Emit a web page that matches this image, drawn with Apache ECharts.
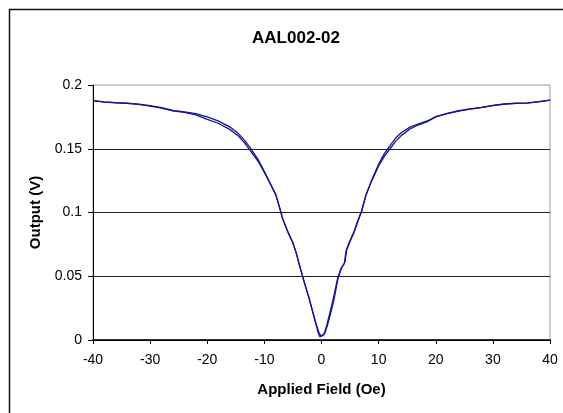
<!DOCTYPE html>
<html>
<head>
<meta charset="utf-8">
<script src="https://cdn.jsdelivr.net/npm/echarts@6/dist/echarts.min.js"></script>
<style>
html,body{margin:0;padding:0;background:#fff;}
#chart{width:563px;height:413px;}
</style>
</head>
<body>
<div id="chart"></div>
<script>
// Branch A (sweep one way)
var fieldA = [-40,-38,-36,-34,-32,-30,-28,-26,-24,-22,-20,-18,-16,-14.5,-13.5,-12.5,-11,-10,-9,-8,-7.4,-6.8,-6,-5,-4.4,-3.7,-3,-2.2,-1.6,-1,-0.6,-0.3,0,0.4,0.9,1.4,2,2.8,3.4,4,4.3,5,5.7,6.3,7,7.8,8.8,10,11,12,13,14,15.5,17,18.5,20,22,24,26,28,30,32,34,36,38,40];
var outA = [0.1877,0.1866,0.1860,0.1856,0.1850,0.1838,0.1822,0.1800,0.1790,0.1776,0.1750,0.1717,0.1670,0.1617,0.1568,0.1508,0.1408,0.1322,0.1232,0.1140,0.1050,0.0950,0.0860,0.0760,0.0680,0.0560,0.0450,0.0330,0.0230,0.0130,0.0060,0.0025,0.0020,0.0040,0.0110,0.0200,0.0310,0.0480,0.0560,0.0600,0.0700,0.0780,0.0850,0.0930,0.1010,0.1140,0.1250,0.1365,0.1440,0.1500,0.1560,0.1605,0.1655,0.1688,0.1712,0.1750,0.1775,0.1795,0.1810,0.1822,0.1838,0.1850,0.1856,0.1858,0.1868,0.1882];
// Branch B (sweep back)
var fieldB = [-40,-38,-36,-34,-32,-30,-28,-26,-24,-22,-20,-18,-16,-14.5,-13.5,-12.5,-11,-10,-9,-8,-7.4,-6.8,-6,-5,-4.4,-3.7,-3,-2.2,-1.6,-1,-0.5,-0.1,0.2,0.6,1.1,1.6,2.2,2.9,3.5,4.1,4.4,5.1,5.8,6.4,7,7.8,8.8,10,11,12,13,14,15.5,17,18.5,20,22,24,26,28,30,32,34,36,38,40];
var outB = [0.1877,0.1867,0.1861,0.1857,0.1848,0.1835,0.1818,0.1797,0.1785,0.1765,0.1730,0.1698,0.1650,0.1598,0.1548,0.1488,0.1395,0.1315,0.1228,0.1138,0.1048,0.0952,0.0858,0.0762,0.0678,0.0562,0.0452,0.0332,0.0232,0.0135,0.0065,0.0030,0.0030,0.0055,0.0125,0.0210,0.0320,0.0485,0.0565,0.0610,0.0705,0.0785,0.0855,0.0935,0.1005,0.1140,0.1255,0.1378,0.1462,0.1525,0.1585,0.1628,0.1670,0.1695,0.1718,0.1752,0.1778,0.1798,0.1812,0.1824,0.1840,0.1851,0.1857,0.1860,0.1869,0.1882];
var xTicks = [-40,-30,-20,-10,0,10,20,30,40];
var yTicks = [0,0.05,0.1,0.15,0.2];

function pairs(xs, ys){ return xs.map(function(x,i){ return [x, ys[i]]; }); }

var chart = echarts.init(document.getElementById('chart'), null, {renderer:'canvas'});
var font = '"Liberation Sans", Arial, sans-serif';
chart.setOption({
  animation: false,
  backgroundColor: '#fff',
  title: {
    text: 'AAL002-02',
    left: 291, top: 25, textAlign: 'center',
    textStyle: {fontFamily: font, fontWeight: 'bold', fontSize: 17, color: '#000'}
  },
  graphic: [{
    type: 'rect', silent: true, z: -1,
    shape: {x: 9.5, y: 9.5, width: 700, height: 600},
    style: {fill: 'none', stroke: '#111', lineWidth: 1.5}
  }],
  grid: {left: 93, right: 13, top: 85, bottom: 73, show: true, borderColor: '#999', borderWidth: 1, backgroundColor: 'transparent'},
  xAxis: {
    type: 'value', min: xTicks[0], max: xTicks[xTicks.length-1], interval: 10,
    name: 'Applied Field (Oe)', nameLocation: 'middle', nameGap: 42,
    nameTextStyle: {fontFamily: font, fontWeight: 'bold', fontSize: 15, color: '#000'},
    axisLine: {show: true, onZero: false, lineStyle: {color: '#000', width: 1.5}},
    axisTick: {show: true, inside: false, length: 4, lineStyle: {color: '#000'}},
    axisLabel: {fontFamily: font, fontSize: 14, color: '#000', margin: 13},
    splitLine: {show: false}
  },
  yAxis: {
    type: 'value', min: yTicks[0], max: yTicks[yTicks.length-1], interval: 0.05,
    name: 'Output (V)', nameLocation: 'middle', nameGap: 50, nameRotate: 90,
    nameTextStyle: {fontFamily: font, fontWeight: 'bold', fontSize: 15, color: '#000'},
    axisLine: {show: true, onZero: false, lineStyle: {color: '#000', width: 1}},
    axisTick: {show: true, inside: false, length: 5, lineStyle: {color: '#000'}},
    axisLabel: {fontFamily: font, fontSize: 14, color: '#000', margin: 11},
    splitLine: {show: true, showMaxLine: false, lineStyle: {color: '#222', width: 1}}
  },
  series: [
    {type: 'line', data: pairs(fieldA, outA), showSymbol: false, symbol: 'none', smooth: false,
     lineStyle: {color: '#14148c', width: 1.3}, z: 3},
    {type: 'line', data: pairs(fieldB, outB), showSymbol: false, symbol: 'none', smooth: false,
     lineStyle: {color: '#14148c', width: 1.3}, z: 3}
  ]
});
</script>
</body>
</html>
